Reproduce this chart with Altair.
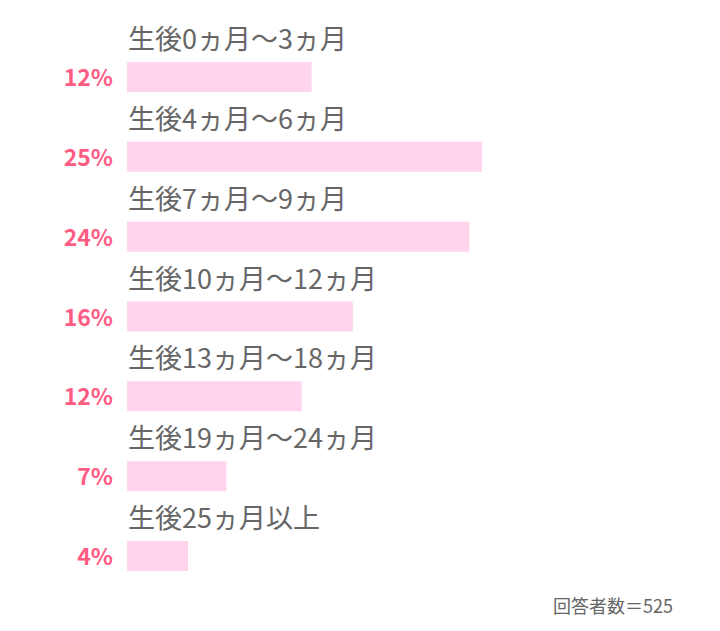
import altair as alt
import pandas as pd

categories = [
    "生後0ヵ月～3ヵ月",
    "生後4ヵ月～6ヵ月",
    "生後7ヵ月～9ヵ月",
    "生後10ヵ月～12ヵ月",
    "生後13ヵ月～18ヵ月",
    "生後19ヵ月～24ヵ月",
    "生後25ヵ月以上",
]
pct_labels = ["12%", "25%", "24%", "16%", "12%", "7%", "4%"]
bar_values = [13.0, 25.0, 24.1, 15.9, 12.3, 7.0, 4.3]
footnote = "回答者数＝525"

df = pd.DataFrame({"cat": categories, "pct": pct_labels, "val": bar_values})

BAR = "#ffd4ec"
PINK = "#ff5c84"
GRAY = "#666666"
JP = "Noto Sans CJK JP"

y = alt.Y("cat:N", sort=categories, axis=None,
          scale=alt.Scale(paddingInner=0, paddingOuter=0))
xs = alt.Scale(domain=[0, 40], nice=False, zero=True)

base = alt.Chart(df).transform_calculate(zero="0")

bars = base.mark_bar(size=30, color=BAR).encode(
    x=alt.X("val:Q", scale=xs, axis=None),
    y=y,
)

cat_text = base.mark_text(align="left", baseline="middle", dx=1, dy=-36,
                          font=JP, fontSize=27, color=GRAY).encode(
    x=alt.X("zero:Q", scale=xs, axis=None),
    y=y,
    text="cat:N",
)

pct_text = base.mark_text(align="right", baseline="middle", dx=-14, dy=2,
                          font=JP, fontSize=23, fontWeight="bold", color=PINK).encode(
    x=alt.X("zero:Q", scale=xs, axis=None),
    y=y,
    text="pct:N",
)

chart = alt.layer(bars, cat_text, pct_text).properties(
    width=568,
    height=559,
    padding={"left": 119, "top": 29, "right": 0, "bottom": 27},
    autosize=alt.AutoSizeParams(type="none"),
    title=alt.TitleParams(footnote, orient="bottom", anchor="end", dx=-22,
                          offset=3, font=JP, fontSize=18, fontWeight="normal",
                          color=GRAY),
).configure(background="white").configure_view(stroke=None)

chart.save("out.html", embed_options={"renderer": "svg", "actions": False})
